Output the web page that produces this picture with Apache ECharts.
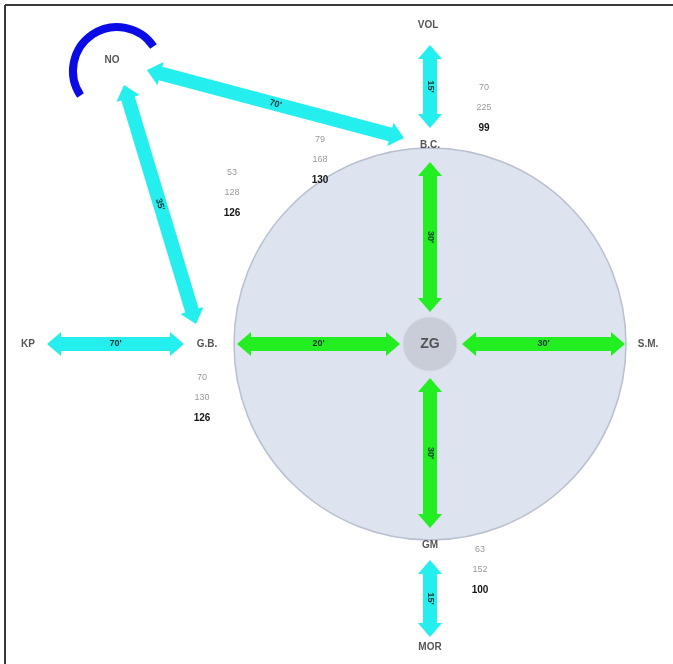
<!DOCTYPE html>
<html>
<head>
<meta charset="utf-8">
<script src="https://cdn.jsdelivr.net/npm/echarts@6/dist/echarts.min.js"></script>
<style>
html, body { margin: 0; padding: 0; background: #fff; }
#chart { width: 673px; height: 664px; }
</style>
</head>
<body>
<div id="chart"></div>
<script>
// diagram space = page pixels (x right, y down)

// station labels
const nodeNames = ['NO', 'VOL', 'B.C.', 'G.B.', 'KP', 'ZG', 'S.M.', 'GM', 'MOR'];
const nodeX = [112, 428, 430, 207, 28, 430, 648, 430, 430];
const nodeY = [60, 25, 145, 344, 344, 344, 344, 545, 647];

// connections (double arrows)
const arrowFrom = [[430, 45], [147, 70], [124, 85], [47, 344], [237, 344], [462, 344], [430, 162], [430, 378], [430, 560]];
const arrowTo = [[430, 128], [404, 138], [196, 324], [184, 344], [400, 344], [625, 344], [430, 312], [430, 528], [430, 637]];
const arrowLabels = ["15'", "70'", "35'", "70'", "20'", "30'", "30'", "30'", "15'"];
const arrowKinds = ['cyan', 'cyan', 'cyan', 'cyan', 'green', 'green', 'green', 'green', 'cyan'];

// figures printed beside the stations
const statX = [484, 320, 232, 202, 480];
const statY = [88, 140, 173, 378, 550];
const statTop = ['70', '79', '53', '70', '63'];
const statMid = ['225', '168', '128', '130', '152'];
const statBottom = ['99', '130', '126', '126', '100'];

const FONT = '"Liberation Sans", Arial, sans-serif';
const kindColor = { cyan: '#24eeee', green: '#22ee22' };

const chart = echarts.init(document.getElementById('chart'));

// arrow with head on both ends, label turned along the shaft
function renderArrow(params, api) {
    const a = api.coord([api.value(0), api.value(1)]);
    const b = api.coord([api.value(2), api.value(3)]);
    const i = params.dataIndex;
    const dx = b[0] - a[0], dy = b[1] - a[1];
    const len = Math.hypot(dx, dy);
    const ux = dx / len, uy = dy / len, nx = -uy, ny = ux;
    const sw = 7, hw = 12, hl = 14;
    const pt = (s, t) => [a[0] + ux * s + nx * t, a[1] + uy * s + ny * t];
    const points = [
        pt(0, 0), pt(hl, hw), pt(hl, sw), pt(len - hl, sw), pt(len - hl, hw),
        pt(len, 0), pt(len - hl, -hw), pt(len - hl, -sw), pt(hl, -sw), pt(hl, -hw)
    ];
    let ang = Math.atan2(-dy, dx);
    if (ang > Math.PI / 2) ang -= Math.PI;
    if (ang < -Math.PI / 2) ang += Math.PI;
    return {
        type: 'group',
        children: [
            { type: 'polygon', shape: { points: points }, style: { fill: kindColor[arrowKinds[i]] } },
            {
                type: 'text',
                x: (a[0] + b[0]) / 2, y: (a[1] + b[1]) / 2,
                rotation: ang,
                style: {
                    text: arrowLabels[i], fill: '#123232',
                    font: 'bold 9px ' + FONT, align: 'center', verticalAlign: 'middle'
                }
            }
        ]
    };
}

// zone round ZG
function renderZone(params, api) {
    const c = api.coord([api.value(0), api.value(1)]);
    return {
        type: 'group',
        children: [
            { type: 'circle', shape: { cx: c[0], cy: c[1], r: 196 }, style: { fill: '#dde3ef', stroke: '#b9c0cf', lineWidth: 1.5 } },
            { type: 'circle', shape: { cx: c[0], cy: c[1], r: 27 }, style: { fill: '#c9cdd8', stroke: '#d6d9e2', lineWidth: 1 } }
        ]
    };
}

// turning loop at NO
function renderLoop(params, api) {
    const c = api.coord([api.value(0), api.value(1)]);
    return {
        type: 'arc',
        shape: { cx: c[0] + 5, cy: c[1] + 11, r: 44, startAngle: 146 * Math.PI / 180, endAngle: 326 * Math.PI / 180, clockwise: true },
        style: { stroke: '#0b0be6', lineWidth: 8, fill: null, lineCap: 'butt' }
    };
}

function renderStat(params, api) {
    const c = api.coord([api.value(0), api.value(1)]);
    const i = params.dataIndex;
    const lines = [statTop[i], statMid[i], statBottom[i]];
    return {
        type: 'group',
        children: lines.map((t, k) => ({
            type: 'text', x: c[0], y: c[1] + k * 20,
            style: {
                text: t, align: 'center', verticalAlign: 'middle',
                fill: k < 2 ? '#9a9a9a' : '#151515',
                font: (k < 2 ? '9px ' : 'bold 10px ') + FONT
            }
        }))
    };
}

const zgIndex = nodeNames.indexOf('ZG');
const noIndex = nodeNames.indexOf('NO');

chart.setOption({
    animation: false,
    grid: { left: 0, right: 0, top: 0, bottom: 0 },
    xAxis: { type: 'value', min: 0, max: 673, show: false },
    yAxis: { type: 'value', min: 0, max: 664, inverse: true, show: false },
    graphic: [
        { type: 'line', shape: { x1: 5, y1: 5, x2: 673, y2: 5 }, style: { stroke: '#3a3a3a', lineWidth: 2 } },
        { type: 'line', shape: { x1: 5, y1: 5, x2: 5, y2: 664 }, style: { stroke: '#3a3a3a', lineWidth: 2 } }
    ],
    series: [
        {
            type: 'custom', z: 1,
            renderItem: renderZone,
            data: [[nodeX[zgIndex], nodeY[zgIndex]]]
        },
        {
            type: 'custom', z: 2,
            renderItem: renderLoop,
            data: [[nodeX[noIndex], nodeY[noIndex]]]
        },
        {
            type: 'custom', z: 3,
            renderItem: renderArrow,
            data: arrowFrom.map((p, i) => [p[0], p[1], arrowTo[i][0], arrowTo[i][1]])
        },
        {
            type: 'scatter', z: 4,
            symbolSize: 0,
            label: {
                show: true, position: 'inside',
                formatter: p => nodeNames[p.dataIndex],
                color: '#2a2a2a', fontFamily: FONT, fontSize: 10, fontWeight: 'bold'
            },
            data: nodeNames.map((n, i) => {
                const item = { value: [nodeX[i], nodeY[i]] };
                if (n === 'ZG') item.label = { fontSize: 14, color: '#333' };
                return item;
            })
        },
        {
            type: 'custom', z: 4,
            renderItem: renderStat,
            data: statX.map((x, i) => [x, statY[i]])
        }
    ]
});
</script>
</body>
</html>
